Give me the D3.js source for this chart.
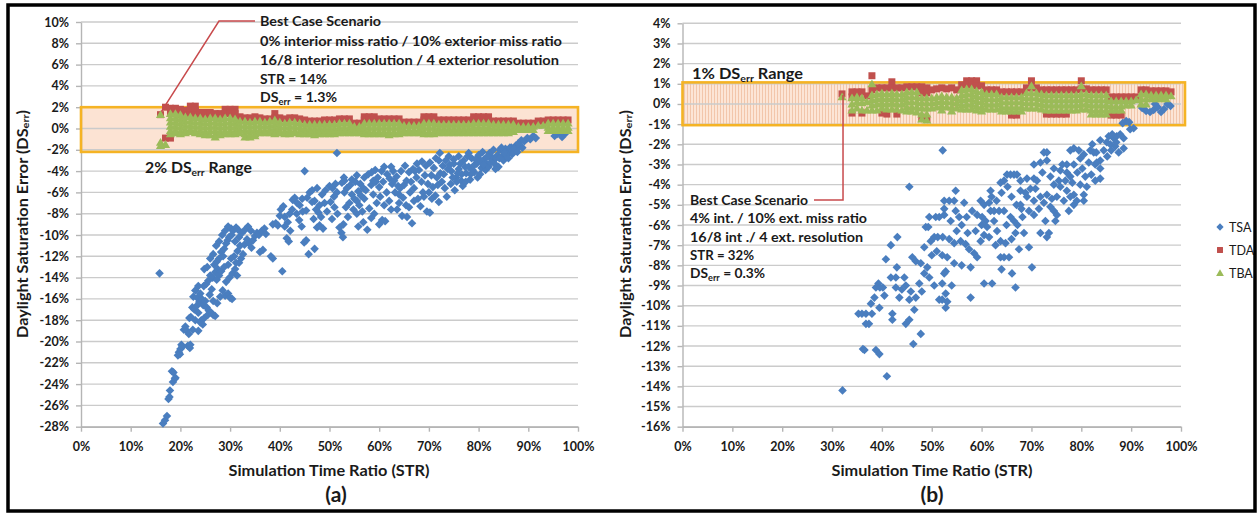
<!DOCTYPE html>
<html><head><meta charset="utf-8">
<script src="https://cdn.jsdelivr.net/npm/d3@7"></script>
<style>
body{margin:0;background:#fff;}
svg text{font-family:Lato,"Open Sans",sans-serif;fill:#1a1a1a;}
</style>
</head><body>
<svg id="c" width="1259" height="513"></svg>
<script>
// ---------------- DATA ----------------
const xTicks = [0,10,20,30,40,50,60,70,80,90,100];
const yTicksA = [10,8,6,4,2,0,-2,-4,-6,-8,-10,-12,-14,-16,-18,-20,-22,-24,-26,-28];
const yTicksB = [4,3,2,1,0,-1,-2,-3,-4,-5,-6,-7,-8,-9,-10,-11,-12,-13,-14,-15,-16];
const seriesNames = ["TSA","TDA","TBA"];
const bandA = [-2.2, 2.0];
const bandB = [-1.05, 1.07];

// Panel (a) TSA  [STR %, DSerr %]
const tsaA = [
[16.5,-27.7],[16.9,-27.4],[17.3,-27.0],[17.6,-25.4],[17.8,-25.2],[17.9,-24.6],[18.3,-22.8],[18.6,-22.9],[18.5,-23.8],[18.9,-23.5],[19.0,-23.4],
[15.8,-13.6],
[19.5,-21.3],[19.7,-21.0],[19.9,-21.2],[20.0,-20.7],[20.2,-20.3],[20.4,-20.5],[21.5,-20.4],[21.9,-20.6],[22.0,-20.3],
[20.7,-18.9],[21.0,-18.6],[21.3,-19.0],[21.7,-19.3],[22.5,-18.9],[21.8,-17.8],[22.1,-17.7],[22.4,-16.8],[22.8,-17.0],[23.2,-16.7],[23.6,-17.3],[24.2,-18.0],[24.5,-18.4],[24.0,-18.2],[23.0,-18.0],[23.6,-19.0],[24.8,-17.8],
[22.6,-15.8],[23.4,-15.9],[23.8,-16.3],[24.3,-16.0],[24.6,-16.6],[25.0,-16.2],[25.3,-16.8],[25.7,-17.1],[25.5,-17.5],[26.2,-17.3],[26.6,-17.5],[27.0,-17.6],[25.9,-15.6],[26.3,-15.1],[24.7,-14.8],[25.2,-14.6],[25.6,-14.3],
[23.0,-15.2],[23.6,-14.8],[24.0,-15.5],[24.8,-13.2],[25.4,-13.0],[26.0,-12.2],[26.6,-11.8],[27.2,-11.0],[27.8,-10.6],[28.4,-10.0],[29.0,-9.6],[29.6,-9.2],[30.2,-9.4],[26.6,-16.2],[27.4,-16.4],[28.0,-15.8],
[26.0,-13.8],[26.5,-14.0],[27.0,-13.5],[27.3,-14.2],[27.5,-13.2],[27.8,-13.8],[28.2,-13.4],[26.8,-12.8],[27.3,-12.5],[27.8,-12.2],[28.2,-11.6],[28.6,-12.0],[28.8,-11.3],[29.2,-10.8],[29.5,-10.5],[29.8,-10.2],[30.3,-10.0],[30.6,-9.6],[31.2,-9.3],[31.6,-9.5],
[28.5,-15.2],[29.0,-15.7],[29.6,-15.5],[30.0,-15.9],[30.4,-16.0],[29.2,-14.4],[29.9,-14.0],[30.5,-13.6],[31.0,-13.2],[31.4,-13.8],[31.8,-12.6],[32.2,-12.2],[32.6,-11.8],[31.5,-11.5],[32.0,-11.0],[32.9,-10.9],[33.4,-10.4],[33.8,-10.8],[34.3,-11.2],[34.6,-10.5],[35.0,-10.1],[35.4,-9.8],[35.8,-10.0],[36.4,-9.6],[36.9,-9.4],[37.2,-9.9],[36.0,-11.6],[36.6,-11.4],[38.2,-12.0],[38.6,-12.2],[40.5,-13.4],
[31.0,-10.6],[31.8,-10.2],[32.4,-9.8],[33.0,-9.5],[33.6,-9.2],[34.2,-9.6],[30.8,-12.0],[31.2,-12.6],[29.6,-12.8],[30.2,-12.2],[28.8,-13.0],
[38.6,-9.0],[39.2,-8.9],[39.6,-9.1],[40.2,-7.6],[40.7,-7.3],[41.0,-8.3],[41.6,-8.8],[41.4,-10.3],[41.8,-10.6],[42.1,-9.6],[42.6,-6.7],[43.0,-6.5],[43.4,-8.0],[43.9,-8.6],[44.4,-9.2],[44.9,-10.7],[45.3,-10.5],[45.8,-11.8],[47.0,-11.3],[44.0,-7.2],[44.6,-7.8],[45.3,-7.7],[45.0,-4.0],[46.0,-6.0],[46.5,-6.9],[46.8,-8.5],[47.3,-7.6],[47.8,-7.9],[48.3,-8.3],[48.0,-9.1],[47.5,-9.3],[48.7,-9.4],[49.2,-5.8],[50.0,-5.4],[50.6,-5.6],[50.9,-6.4],[51.5,-6.0],[51.0,-7.4],[51.6,-8.0],[52.0,-9.3],[52.4,-9.8],[52.8,-9.0],[52.5,-5.1],[52.9,-4.6],[51.5,-2.3],[52.7,-10.2],
[40.0,-8.2],[41.0,-9.2],[42.0,-8.0],[42.5,-7.6],[43.5,-7.0],[44.5,-6.6],[45.5,-6.5],[46.5,-5.8],[47.5,-5.6],[48.5,-6.2],[49.0,-7.0],[49.5,-7.8],[50.5,-8.5],[47.0,-6.8],[48.0,-7.2],[50.2,-6.9],[51.2,-5.2],[53.0,-4.9],[53.5,-5.6],[54.5,-4.8],[55.5,-4.4],[54.8,-7.6],[55.5,-8.0],[56.2,-5.2],[57.0,-4.6],[57.8,-4.3],[58.5,-4.1],[59.2,-3.9],
[53.3,-7.4],[53.7,-8.3],[54.0,-7.0],[54.5,-6.2],[55.0,-6.6],[55.5,-6.8],[55.8,-5.9],[56.3,-6.3],[56.8,-5.6],[57.3,-5.8],[57.6,-9.5],[58.0,-7.5],[58.4,-5.3],[58.8,-4.9],[59.3,-5.0],[59.7,-4.6],[60.2,-6.4],[60.6,-8.6],[61.2,-8.7],[61.6,-4.3],[62.1,-4.7],[62.6,-5.2],[63.2,-6.0],[63.6,-7.6],[64.0,-7.0],[64.6,-8.2],[65.0,-5.3],[65.5,-4.9],[66.0,-4.1],[66.6,-8.9],[67.0,-5.6],[67.5,-4.6],[68.0,-3.9],[68.5,-5.0],[69.0,-6.4],[69.6,-7.8],[70.0,-6.0],[70.5,-4.4],[71.0,-3.7],[71.3,-6.3],[71.8,-5.3],[72.3,-4.2],[72.8,-3.5],[73.2,-5.6],[73.6,-6.4],[74.0,-2.6],[74.5,-4.0],[75.0,-3.3],[75.5,-4.6],[76.0,-3.8],[76.5,-4.9],[77.0,-3.0],[77.5,-4.2],[78.0,-3.6],[78.6,-2.8],[79.1,-4.1],[79.6,-3.3],[80.0,-2.5],[80.6,-3.7],[81.1,-2.9],[81.6,-3.3],[82.2,-2.3],[82.7,-2.9],[83.2,-3.3],[83.8,-2.5],[84.3,-2.0],[84.8,-2.6],[85.4,-1.9],[86.0,-2.2],[86.6,-1.8],
[53.0,-6.0],[54.2,-5.3],[55.2,-5.0],[56.0,-7.2],[56.6,-7.8],[57.0,-6.6],[58.8,-6.2],[59.5,-7.0],[60.0,-5.5],[60.8,-5.0],[61.5,-6.0],[62.0,-6.8],[62.8,-4.0],[63.5,-4.5],[64.2,-5.6],[64.8,-6.5],[65.4,-7.2],[65.6,-8.3],[66.2,-6.0],[66.8,-3.8],[67.8,-6.6],[68.3,-7.3],[69.2,-4.4],[69.8,-5.2],[70.2,-7.9],[70.8,-5.5],[71.6,-4.6],[72.0,-6.9],[72.2,-2.3],[72.6,-5.0],[73.0,-4.3],[73.8,-3.8],[74.4,-5.2],[75.2,-5.8],[75.8,-4.2],[76.3,-3.3],[76.8,-5.4],[77.3,-3.6],[78.3,-4.8],[78.8,-3.9],[79.4,-2.9],[80.3,-4.3],[81.4,-3.9],[82.0,-3.6],[82.5,-2.6],[83.5,-2.8],[84.0,-3.6],[85.0,-3.0],[85.7,-2.5],[86.3,-1.8],[87.0,-2.0],[87.5,-1.6],[75.0,-2.9],[77.8,-2.6],[80.8,-2.2],[84.6,-1.8],
[60.5,-4.0],[61.0,-3.6],[62.4,-3.6],[63.0,-4.9],[63.8,-5.4],[64.4,-4.0],[65.2,-3.5],[66.4,-5.0],[67.2,-4.0],[67.6,-3.3],[68.6,-3.1],[69.4,-3.5],[70.2,-3.2],[70.6,-6.6],[71.4,-2.8],[72.0,-3.0],[73.4,-3.0],[74.2,-3.4],[74.8,-4.6],[75.6,-5.0],[76.0,-2.6],[76.6,-4.3],[77.4,-5.0],[78.0,-2.3],[78.4,-4.3],[79.0,-3.5],[79.8,-4.6],[80.4,-3.0],[81.0,-3.4],[81.8,-2.6],[82.4,-3.2],[83.0,-2.0],[83.4,-3.8],[84.2,-2.8],[85.2,-2.3],[86.0,-2.8],[86.8,-2.4],[87.2,-1.9],[88.2,-1.7],[88.8,-1.8],[87.8,-2.2],[67.0,-6.8],[68.8,-6.0],[66.0,-7.4],[64.0,-6.2],[62.4,-7.6],[61.0,-7.2],[59.0,-8.0],[58.4,-8.4],[56.8,-8.8],[55.8,-9.2],[60.0,-9.0],
[88.0,-1.4],[88.6,-1.1],[89.2,-1.2],[89.8,-0.9],[90.4,-1.0],[91.0,-0.7],[91.5,-0.9],
[95.3,-0.7],[95.8,-0.5],[96.4,-0.4],[97.0,-0.6],[97.6,-0.4],[96.8,-0.8]
];

// Panel (a) TDA / TBA, one entry per STR column: [STR %, [DSerr % values]]
const tdaA = [
[16,[1.3]],[17,[2.0,-0.9]],[18,[1.9,1.5,-0.9]],[19,[1.9,1.5]],[20,[1.8,1.4]],[21,[1.7,1.3]],[22,[2.1,1.7,1.3]],[23,[2.1,1.7,1.3]],
[24,[1.5,1.1]],[25,[1.5,1.1]],[26,[1.5,1.1]],[27,[1.4,1.1]],[28,[1.4,1.0]],[29,[1.8,1.4]],[30,[1.8,1.4]],[31,[1.8,1.4,1.1]],
[32,[1.1]],[33,[1.0]],[34,[1.0]],[35,[1.1]],[36,[1.0]],[37,[0.9]],[38,[0.9]],[39,[1.4,1.0]],[40,[1.0]],
[41,[0.9]],[42,[1.0]],[43,[1.0]],[44,[0.9]],[45,[0.8]],[46,[0.7]],[47,[0.7]],[48,[0.7]],[49,[0.8]],[50,[0.8]],[51,[0.8]],
[52,[0.9]],[53,[0.9]],[54,[0.9]],[55,[0.5]],[56,[0.5]],[57,[1.1,0.8]],[58,[1.1,0.8]],[59,[1.1,0.8]],
[60,[0.9]],[61,[0.9]],[62,[0.9]],[63,[0.9]],[64,[0.9]],[65,[0.6]],[66,[0.6]],[67,[0.6]],[68,[0.6]],
[69,[1.1,0.8]],[70,[1.1,0.8]],[71,[1.1,0.8]],[72,[0.8]],[73,[0.8]],[74,[0.8]],[75,[0.8]],[76,[0.8]],[77,[0.8]],[78,[0.8]],
[79,[1.1,0.8]],[80,[1.1,0.8]],[81,[1.1,0.8]],[82,[1.1,0.8]],[83,[0.7]],[84,[0.7]],[85,[0.7]],[86,[0.7]],[87,[0.7]],
[88,[0.5]],[89,[0.5]],[90,[0.5]],[91,[0.5]],[92,[0.7]],[93,[0.7]],[94,[0.8]],[95,[0.8]],[96,[0.8]],[97,[0.8]],[98,[0.8]]
];
const tbaA = [
[16,[1.3,-1.3,-1.6]],[17,[-1.5]],[18,[1.4,1.0,0.6,0.2,-0.2,-0.5]],[19,[1.4,1.0,0.6,0.2,-0.2,-0.4]],[20,[1.3,0.9,0.5,0.1,-0.3,-0.5]],
[21,[1.1,0.7,0.3,-0.1,-0.4]],[22,[1.1,0.7,0.3,-0.1,-0.3]],[23,[1.0,0.6,0.2,-0.2,-0.4]],[24,[1.0,0.6,0.2,-0.2,-0.5]],[25,[0.9,0.5,0.1,-0.3,-0.6]],
[26,[1.0,0.6,0.2,-0.2,-0.6]],[27,[1.0,0.6,0.2,-0.2,-0.6,-0.8]],[28,[0.9,0.5,0.1,-0.3,-0.6]],[29,[1.0,0.6,0.2,-0.2,-0.5]],[30,[1.0,0.6,0.2,-0.2,-0.5]],
[31,[0.9,0.5,0.1,-0.3,-0.5]],[32,[0.7,0.3,-0.1,-0.4]],[33,[0.7,0.3,-0.1,-0.5,-0.8]],[34,[0.6,0.2,-0.2,-0.6,-0.8]],[35,[0.7,0.3,-0.1,-0.5,-0.7]],
[36,[0.7,0.3,-0.1,-0.4]],[37,[0.6,0.2,-0.2,-0.4]],[38,[0.7,0.3,-0.1,-0.4]],[39,[0.8,0.4,0.0,-0.4,-0.5]],[40,[0.6,0.2,-0.2,-0.4]],
[41,[0.5,0.1,-0.3,-0.5]],[42,[0.6,0.2,-0.2,-0.5]],[43,[0.6,0.2,-0.2,-0.4]],[44,[0.5,0.1,-0.3,-0.5]],[45,[0.4,0.0,-0.3,-0.5]],
[46,[0.4,0.0,-0.3,-0.5]],[47,[0.4,0.0,-0.3,-0.6]],[48,[0.4,0.0,-0.3,-0.5]],[49,[0.4,0.0,-0.3,-0.5]],[50,[0.4,0.0,-0.3,-0.5]],
[51,[0.4,0.0,-0.3,-0.5]],[52,[0.5,0.1,-0.2,-0.4]],[53,[0.5,0.1,-0.2,-0.4]],[54,[0.5,0.1,-0.2,-0.4]],[55,[0.2,-0.1,-0.4]],
[56,[0.2,-0.1,-0.4]],[57,[0.5,0.1,-0.2,-0.5]],[58,[0.5,0.1,-0.3,-0.5]],[59,[0.5,0.1,-0.3,-0.5]],[60,[0.5,0.1,-0.3,-0.5]],
[61,[0.5,0.1,-0.3,-0.5]],[62,[0.5,0.1,-0.3,-0.6]],[63,[0.5,0.1,-0.3,-0.5]],[64,[0.5,0.1,-0.3,-0.5]],[65,[0.3,-0.1,-0.4]],
[66,[0.3,-0.1,-0.4]],[67,[0.3,-0.1,-0.4]],[68,[0.3,-0.1,-0.4]],[69,[0.5,0.1,-0.3,-0.5]],[70,[0.5,0.1,-0.3,-0.5]],
[71,[0.5,0.1,-0.3,-0.5]],[72,[0.4,0.0,-0.3,-0.4]],[73,[0.4,0.0,-0.3,-0.4]],[74,[0.4,0.0,-0.3,-0.4]],[75,[0.4,0.0,-0.3,-0.4]],
[76,[0.4,0.0,-0.3,-0.4]],[77,[0.4,0.0,-0.3,-0.4]],[78,[0.4,0.0,-0.3,-0.4]],[79,[0.5,0.1,-0.2,-0.4]],[80,[0.5,0.1,-0.2,-0.4]],
[81,[0.5,0.1,-0.2,-0.4]],[82,[0.5,0.1,-0.2,-0.4]],[83,[0.4,0.0,-0.3,-0.4]],[84,[0.4,0.0,-0.3,-0.4]],[85,[0.4,0.0,-0.3,-0.4]],
[86,[0.4,0.0,-0.3,-0.4]],[87,[0.4,0.0,-0.3]],[88,[0.2,-0.1]],[89,[0.2,-0.1]],[90,[0.2,-0.1]],
[91,[0.2,-0.1]],[92,[0.3]],[93,[0.3]],[94,[0.5,0.1,-0.2]],[95,[0.5,0.1,-0.2]],
[96,[0.5,0.1,-0.2]],[97,[0.5,0.1,-0.2]],[98,[0.5,0.1,-0.2]]
];

// Panel (b) TSA
const tsaB = [
[32.1,-14.2],[41.0,-13.5],[36.5,-12.2],[38.8,-12.2],[39.5,-12.4],[36.2,-12.15],[47.8,-11.4],[46.3,-11.9],
[35.3,-10.4],[36.0,-10.4],[36.8,-10.4],[38.0,-10.4],[36.8,-10.9],[37.4,-10.9],[42.1,-10.4],[42.1,-10.7],[45.5,-10.7],[44.8,-10.9],[37.8,-9.9],
[38.8,-9.1],[39.3,-8.9],[39.6,-9.1],[40.2,-9.1],[41.8,-8.6],[42.8,-8.6],[44.5,-8.6],[42.8,-9.1],[44.8,-9.0],[45.8,-9.3],[46.8,-9.6],[45.5,-9.7],[43.5,-9.6],[40.8,-7.7],[41.8,-7.0],[43.1,-6.6],
[46.1,-7.6],[46.8,-7.8],[47.8,-7.9],[49.1,-8.1],[49.5,-8.6],[48.5,-8.4],[48.5,-7.1],[48.8,-6.1],[49.3,-6.1],[50.5,-6.6],[51.2,-6.6],[52.2,-6.6],[49.5,-5.6],[50.8,-5.6],[51.5,-5.6],[52.5,-4.8],[53.5,-4.8],[54.5,-4.8],[54.8,-4.3],[52.5,-5.2],[52.2,-2.3],[45.5,-4.1],[52.5,-5.5],[53.8,-5.8],
[52.1,-7.5],[53.1,-7.6],[54.5,-7.9],[52.8,-8.3],[52.5,-8.4],[52.1,-8.9],[52.8,-9.4],[53.1,-9.8],[52.8,-10.1],[51.5,-9.7],[52.1,-9.7],[54.8,-5.3],
[55.8,-6.8],[56.8,-6.95],[57.5,-7.2],[58.5,-7.4],[59.1,-7.6],[58.1,-5.3],[59.1,-5.5],[60.1,-5.6],[60.8,-5.8],[61.1,-6.1],[60.5,-6.5],[59.8,-6.8],[58.8,-6.3],
[57.8,-8.1],[57.8,-9.6],[60.5,-8.9],[62.1,-8.9],[59.8,-4.8],[60.5,-5.0],[61.5,-4.9],[61.8,-4.3],
[61.8,-5.3],[62.5,-5.3],[63.5,-5.3],[64.5,-5.3],[65.8,-5.6],[66.5,-5.8],[62.5,-5.8],[63.1,-6.3],[63.8,-6.8],[63.8,-7.6],[64.5,-7.6],[66.1,-8.4],[66.8,-9.1],[66.8,-6.4],[68.5,-6.4],[69.5,-7.1],[70.1,-8.1],
[63.8,-3.9],[64.5,-3.8],[65.1,-3.5],[65.8,-3.5],[66.5,-3.5],[67.1,-3.5],[67.8,-4.3],[69.1,-4.6],[70.5,-4.8],[67.8,-3.8],[69.1,-3.7],[70.5,-3.7],[71.1,-3.8],[69.5,-5.3],[70.5,-5.5],[71.8,-6.4],[73.5,-6.4],[73.1,-6.6],[72.8,-5.8],
[71.8,-4.6],[73.1,-4.5],[74.1,-4.7],[72.5,-4.9],[73.8,-5.1],[74.5,-5.3],[75.1,-5.5],[74.8,-5.8],
[70.5,-3.0],[71.8,-2.9],[73.1,-2.8],[72.5,-2.4],[73.1,-2.4],[74.5,-3.2],[75.8,-3.3],[77.1,-3.4],[77.8,-3.6],[75.8,-4.1],[77.1,-4.3],[78.5,-4.5],[75.1,-4.6],[76.5,-4.8],[77.8,-4.6],[78.5,-5.0],[79.1,-4.8],
[77.1,-3.0],[78.5,-3.0],[79.8,-2.7],[80.5,-2.5],[81.8,-2.3],[82.5,-2.4],[83.8,-2.8],[83.8,-3.2],[83.8,-3.7],[82.8,-3.8],[81.1,-4.1],[80.5,-4.5],[82.8,-3.0],[83.1,-2.9],
[83.8,-1.8],[85.1,-1.9],[85.8,-2.0],[86.5,-1.7],[87.1,-1.6],[87.8,-1.5],[88.5,-1.7],[88.5,-2.2],[87.5,-2.4],[86.8,-2.1],
[89.8,-1.25],[90.5,-1.2],[77.8,-2.3],[78.5,-2.2],[79.8,-4.0],[80.5,-4.8],
[62.0,-4.6],[63.0,-4.8],[64.0,-4.4],[65.2,-4.1],[66.0,-4.6],[67.0,-5.0],[68.0,-5.2],[65.0,-6.0],[66.0,-6.7],[67.5,-7.2],[68.2,-5.6],[56.0,-6.0],[57.0,-5.6],[56.5,-4.9],[55.5,-5.6],[57.2,-6.4],
[60.0,-6.0],[61.5,-6.6],[62.8,-7.0],[64.8,-6.9],[65.5,-7.6],[67.2,-6.0],[67.8,-5.0],[68.8,-4.4],[69.8,-4.2],[70.8,-4.2],[71.5,-5.2],[72.2,-3.4],[73.8,-3.6],[74.5,-4.0],[75.5,-3.8],[76.2,-3.0],[76.8,-3.8],[77.5,-5.3],[78.2,-3.9],[79.2,-3.4],[79.5,-2.3],[80.2,-3.2],[80.8,-3.6],[81.5,-2.9],[82.0,-3.5],[82.2,-2.0],[83.0,-2.4],[84.5,-2.3],[85.2,-2.6],[85.5,-1.6],[86.0,-2.3],[86.2,-1.5],[87.0,-1.9],
[55.0,-6.3],[54.5,-6.9],[53.5,-6.7],[51.0,-7.3],[50.0,-7.5],[49.8,-6.8],[48.0,-9.3],[47.5,-8.9],[44.0,-9.2],[43.0,-8.1],[40.5,-9.5],[38.5,-9.6],[39.5,-10.1],[46.5,-10.2],[50.5,-9.0],[54.0,-9.0],[56.0,-8.0],[64.0,-8.2],
[88.3,-0.95],[89.0,-0.85],[89.6,-0.9],[92.2,-0.2],[93.0,-0.35],[93.8,-0.4],[94.5,-0.3],[95.3,-0.15],[96.0,-0.4],[96.6,-0.25],[97.3,0.0],[97.9,-0.1],[94.8,0.0]
];

const tdaB = [
[32,[0.5]],[34,[0.6,0.35,-0.45]],[35,[0.6,0.35]],[36,[0.6,-0.45]],[37,[0.4]],[38,[1.4,0.7]],[39,[0.8]],[40,[0.8,-0.45]],
[41,[0.8,-0.5]],[42,[1.1,0.8]],[43,[0.8,-0.5]],[44,[0.8]],[45,[0.85]],[46,[0.85]],[47,[0.85]],[48,[0.85,0.55,-0.7]],
[49,[0.8,0.55,-0.75]],[50,[0.7]],[51,[0.75]],[52,[0.8]],[53,[0.75]],[54,[0.8]],[55,[0.7]],[56,[0.95]],
[57,[1.15,0.95]],[58,[1.15,0.95]],[59,[1.15,0.9]],[60,[0.9]],[61,[0.7]],[62,[0.7]],[63,[0.7]],
[64,[0.6]],[65,[0.6]],[66,[0.6,-0.55]],[67,[0.6,-0.55]],[68,[0.6]],[69,[0.8]],[70,[1.15,0.8]],[71,[0.8]],[72,[0.7]],
[73,[0.7,-0.5]],[74,[0.7,-0.5]],[75,[0.7,-0.5]],[76,[0.7,-0.5]],[77,[0.7,-0.5]],[78,[0.7]],[79,[0.7]],
[80,[1.15,0.75]],[81,[0.75]],[82,[0.7]],[83,[0.7]],[84,[0.7]],[85,[0.7]],
[86,[0.35,-0.55]],[87,[0.35,-0.55]],[88,[0.35,-0.55]],[89,[0.35]],[90,[0.35]],[91,[0.35]],
[92,[0.7]],[93,[0.7]],[94,[0.65,0.45]],[95,[0.65,0.45]],[96,[0.65,0.45]],[97,[0.65,0.45]],[98,[0.6]]
];
const tbaB = [
[32,[0.35]],[34,[0.3,0.0,-0.3]],[35,[0.35,0.1,-0.2]],[36,[0.3,0.05,-0.3]],[37,[0.1,-0.3]],
[38,[1.0,0.45,0.2,-0.05,-0.3]],[39,[0.5,0.25,0.0,-0.3]],[40,[0.55,0.3,0.05,-0.2]],[41,[0.5,0.25,0.0,-0.25]],
[42,[0.55,0.3,0.05,-0.25]],[43,[0.5,0.25,0.0,-0.25]],[44,[0.5,0.25,0.0,-0.3]],[45,[0.6,0.35,0.1,-0.15,-0.35]],
[46,[0.6,0.35,0.1,-0.15,-0.35]],[47,[0.6,0.35,0.1,-0.15,-0.4]],[48,[0.3,0.05,-0.2,-0.5,-0.75]],[49,[0.3,0.05,-0.2,-0.5,-0.8]],
[50,[0.3,0.05,-0.2]],[51,[0.35,0.1,-0.15]],[52,[0.4,0.15,-0.1,-0.3]],[53,[0.35,0.1,-0.15]],[54,[0.35,0.1,-0.15,-0.35]],
[55,[0.3,0.05,-0.2]],[56,[0.7,0.45,0.2,-0.05,-0.25]],[57,[0.75,0.5,0.25,0.0,-0.25]],[58,[0.75,0.5,0.25,0.0,-0.25]],
[59,[0.65,0.4,0.15,-0.1,-0.3]],[60,[0.6,0.35,0.1,-0.15,-0.35]],[61,[0.5,0.25,0.0,-0.25]],[62,[0.5,0.25,0.0,-0.25]],
[63,[0.5,0.25,0.0,-0.25]],[64,[0.35,0.1,-0.15,-0.35]],[65,[0.35,0.1,-0.15,-0.35]],[66,[0.35,0.1,-0.15,-0.35]],
[67,[0.35,0.1,-0.15,-0.35]],[68,[0.35,0.1,-0.15,-0.35]],[69,[0.55,0.3,0.05,-0.2]],[70,[0.9,0.55,0.3,0.05,-0.2]],
[71,[0.55,0.3,0.05,-0.2]],[72,[0.5,0.25,0.0,-0.25]],[73,[0.45,0.2,-0.05,-0.3]],[74,[0.45,0.2,-0.05,-0.3]],
[75,[0.45,0.2,-0.05,-0.3]],[76,[0.45,0.2,-0.05,-0.3]],[77,[0.45,0.2,-0.05,-0.3]],[78,[0.45,0.2,-0.05,-0.3]],
[79,[0.45,0.2,-0.05,-0.3]],[80,[0.9,0.5,0.25,0.0,-0.25]],[81,[0.5,0.25,0.0,-0.25]],[82,[0.45,0.2,-0.05,-0.3,-0.5]],
[83,[0.45,0.2,-0.05,-0.3,-0.5]],[84,[0.45,0.2,-0.05,-0.3,-0.5]],[85,[0.45,0.2,-0.05,-0.3,-0.5]],[86,[0.15,-0.1,-0.3]],
[87,[0.15,-0.1,-0.3]],[88,[0.15,-0.1,-0.3]],[89,[0.15,-0.05]],[90,[0.15,-0.05]],[91,[0.2]],
[92,[0.5,0.25,0.0]],[93,[0.5,0.25,0.0]],[94,[0.45,0.25]],[95,[0.45,0.25]],[96,[0.45,0.25]],[97,[0.45,0.25]],[98,[0.4]]
];

// best case scenario points [STR %, DSerr %]
const bestA = [16.2, 1.6];
const bestB = [32.2, 0.45];
const notesA = ["Best Case Scenario","0% interior miss ratio / 10% exterior miss ratio","16/8 interior resolution / 4 exterior resolution","STR = 14%","DS|err| = 1.3%"];
const notesB = ["Best Case Scenario","4% int. / 10% ext. miss ratio","16/8 int ./ 4 ext. resolution","STR = 32%","DS|err| = 0.3%"];

// ---------------- DRAW ----------------
const C = {tsa:"#4a7ebf", tda:"#c0504d", tba:"#9bbb59", grid:"#cbcbcb", axis:"#b5b5b5", band:"#f5b324", red:"#c84a4c"};
const svg = d3.select("#c");
const defs = svg.append("defs");
const pat = defs.append("pattern").attr("id","hatch").attr("width",3).attr("height",6).attr("patternUnits","userSpaceOnUse");
pat.append("rect").attr("width",3).attr("height",6).attr("fill","#fce5d6");
pat.append("rect").attr("width",1).attr("height",6).attr("fill","#f2c6ab");

const flat = cols => cols.flatMap(([x, ys]) => ys.map(y => [x, y]));
const diamond = "M0,-4.3L4.3,0L0,4.3L-4.3,0Z";
const square = "M-3.5,-3.5H3.5V3.5H-3.5Z";
const tri = "M0,-4.4L4.6,3.4L-4.6,3.4Z";

function richText(sel, str, sub, len){
  const parts = str.split("|");
  sel.append("tspan").text(parts[0]);
  if (parts.length > 1){
    sel.append("tspan").attr("font-size", sub).attr("dy", 3).text(parts[1]);
    sel.append("tspan").attr("dy", -3).text(parts[2]);
  }
  if (len) sel.attr("textLength", len).attr("lengthAdjust", "spacingAndGlyphs");
}

function panel(cfg){
  const x = d3.scaleLinear().domain([0,100]).range(cfg.xr);
  const y = d3.scaleLinear().domain(cfg.yd).range(cfg.yr);
  const g = svg.append("g");
  g.append("rect").attr("x", x(0)).attr("width", x(cfg.bandX) - x(0))
    .attr("y", y(cfg.band[1])).attr("height", y(cfg.band[0]) - y(cfg.band[1]))
    .attr("fill", cfg.bandFill);
  g.selectAll("line.grid").data(cfg.yTicks).join("line").attr("class","grid")
    .attr("x1", x(0)).attr("x2", x(100)).attr("y1", d => y(d)).attr("y2", d => y(d))
    .attr("stroke", C.grid).attr("stroke-width", 1.4);
  const ya = g.append("g").attr("transform", `translate(${x(0)},0)`)
    .call(d3.axisLeft(y).tickValues(cfg.yTicks).tickFormat(d => d + "%").tickSize(5).tickSizeOuter(0).tickPadding(7));
  const xa = g.append("g").attr("transform", `translate(0,${y(cfg.yd[0])})`)
    .call(d3.axisBottom(x).tickValues(xTicks).tickFormat(d => d + "%").tickSize(5).tickSizeOuter(0).tickPadding(10));
  [ya, xa].forEach(a => {
    a.select(".domain").attr("stroke", C.axis).attr("stroke-width", 1.4);
    a.selectAll(".tick line").attr("stroke", C.axis).attr("stroke-width", 1.4);
    a.selectAll(".tick text").attr("font-family", "Lato").attr("font-weight", "bold").attr("font-size", 12.5).attr("fill", "#1a1a1a");
  });
  g.append("rect").attr("x", x(0)).attr("width", x(cfg.bandX) - x(0))
    .attr("y", y(cfg.band[1])).attr("height", y(cfg.band[0]) - y(cfg.band[1]))
    .attr("fill", "none").attr("stroke", C.band).attr("stroke-width", 2.6);
  g.append("g").selectAll("path").data(cfg.tsa).join("path")
    .attr("d", diamond).attr("fill", C.tsa).attr("transform", d => `translate(${x(d[0])},${y(d[1])})`);
  g.append("g").selectAll("path").data(flat(cfg.tda)).join("path")
    .attr("d", square).attr("fill", C.tda).attr("transform", d => `translate(${x(d[0])},${y(d[1])})`);
  g.append("g").selectAll("path").data(flat(cfg.tba)).join("path")
    .attr("d", tri).attr("fill", C.tba).attr("transform", d => `translate(${x(d[0])},${y(d[1])})`);
  const yt = svg.append("text").attr("transform", `translate(${cfg.ytx},224) rotate(-90)`)
    .attr("text-anchor","middle").attr("dominant-baseline","central")
    .attr("font-weight","bold").attr("font-size",15);
  richText(yt, "Daylight Saturation Error (DS|err|)", 10, 228);
  svg.append("text").attr("x", cfg.xtx).attr("y", 476).attr("text-anchor","middle")
    .attr("font-weight","bold").attr("font-size",16).attr("textLength",201).attr("lengthAdjust","spacingAndGlyphs")
    .text("Simulation Time Ratio (STR)");
  svg.append("text").attr("x", cfg.lab[0]).attr("y", 502).attr("text-anchor","middle")
    .attr("font-weight","bold").attr("font-size",21).text(cfg.lab[1]);
  return {x, y};
}

const A = panel({xr:[81,578], yd:[-28,10], yr:[426.7,22], yTicks:yTicksA, band:bandA, bandX:100, bandFill:"#fce3d3",
  tsa:tsaA, tda:tdaA, tba:tbaA, ytx:22, xtx:329, lab:[336,"(a)"]});
const B = panel({xr:[682.5,1181], yd:[-16,4], yr:[426.7,23.3], yTicks:yTicksB, band:bandB, bandX:100.8, bandFill:"url(#hatch)",
  tsa:tsaB, tda:tdaB, tba:tbaB, ytx:625, xtx:932, lab:[932,"(b)"]});

// annotations (a)
svg.append("path").attr("d", `M${A.x(bestA[0])},${A.y(bestA[1])}L219,21H255`).attr("fill","none").attr("stroke",C.red).attr("stroke-width",1.5);
const ayA = [25.5, 45.5, 64.5, 83.5, 102];
const lenA = [121, 302, 299, 67, 77];
notesA.forEach((t,i) => {
  const tx = svg.append("text").attr("x",260).attr("y",ayA[i]).attr("font-weight","bold").attr("font-size",13.5);
  richText(tx, t, 9, lenA[i]);
});
const rA = svg.append("text").attr("x",145).attr("y",172.5).attr("font-weight","bold").attr("font-size",15.5);
richText(rA, "2% DS|err| Range", 10, 107);

// annotations (b)
svg.append("path").attr("d", `M${B.x(bestB[0])},${B.y(bestB[1])}V200H814`).attr("fill","none").attr("stroke",C.red).attr("stroke-width",1.5);
const ayB = [204.5, 222.5, 241.5, 259.5, 278];
const lenB = [118, 177, 173, 64, 75];
notesB.forEach((t,i) => {
  const tx = svg.append("text").attr("x",690).attr("y",ayB[i]).attr("font-weight","bold").attr("font-size",13.5);
  richText(tx, t, 9, lenB[i]);
});
const rB = svg.append("text").attr("x",692).attr("y",78.5).attr("font-weight","bold").attr("font-size",15.5);
richText(rB, "1% DS|err| Range", 10, 111);

// legend
const lg = svg.append("g");
const shapes = [diamond, square, tri], cols = [C.tsa, C.tda, C.tba], ly = [227, 250, 273];
seriesNames.forEach((n,i) => {
  lg.append("path").attr("d", shapes[i]).attr("fill", cols[i]).attr("transform", `translate(1220,${ly[i]}) scale(0.85)`);
  lg.append("text").attr("x",1229).attr("y",ly[i]+4.5).attr("font-size",12.5).text(n);
});

// outer frame
svg.append("rect").attr("x",8).attr("y",5).attr("width",1247).attr("height",506)
  .attr("fill","none").attr("stroke","#000").attr("stroke-width",3.5);
</script>
</body></html>
